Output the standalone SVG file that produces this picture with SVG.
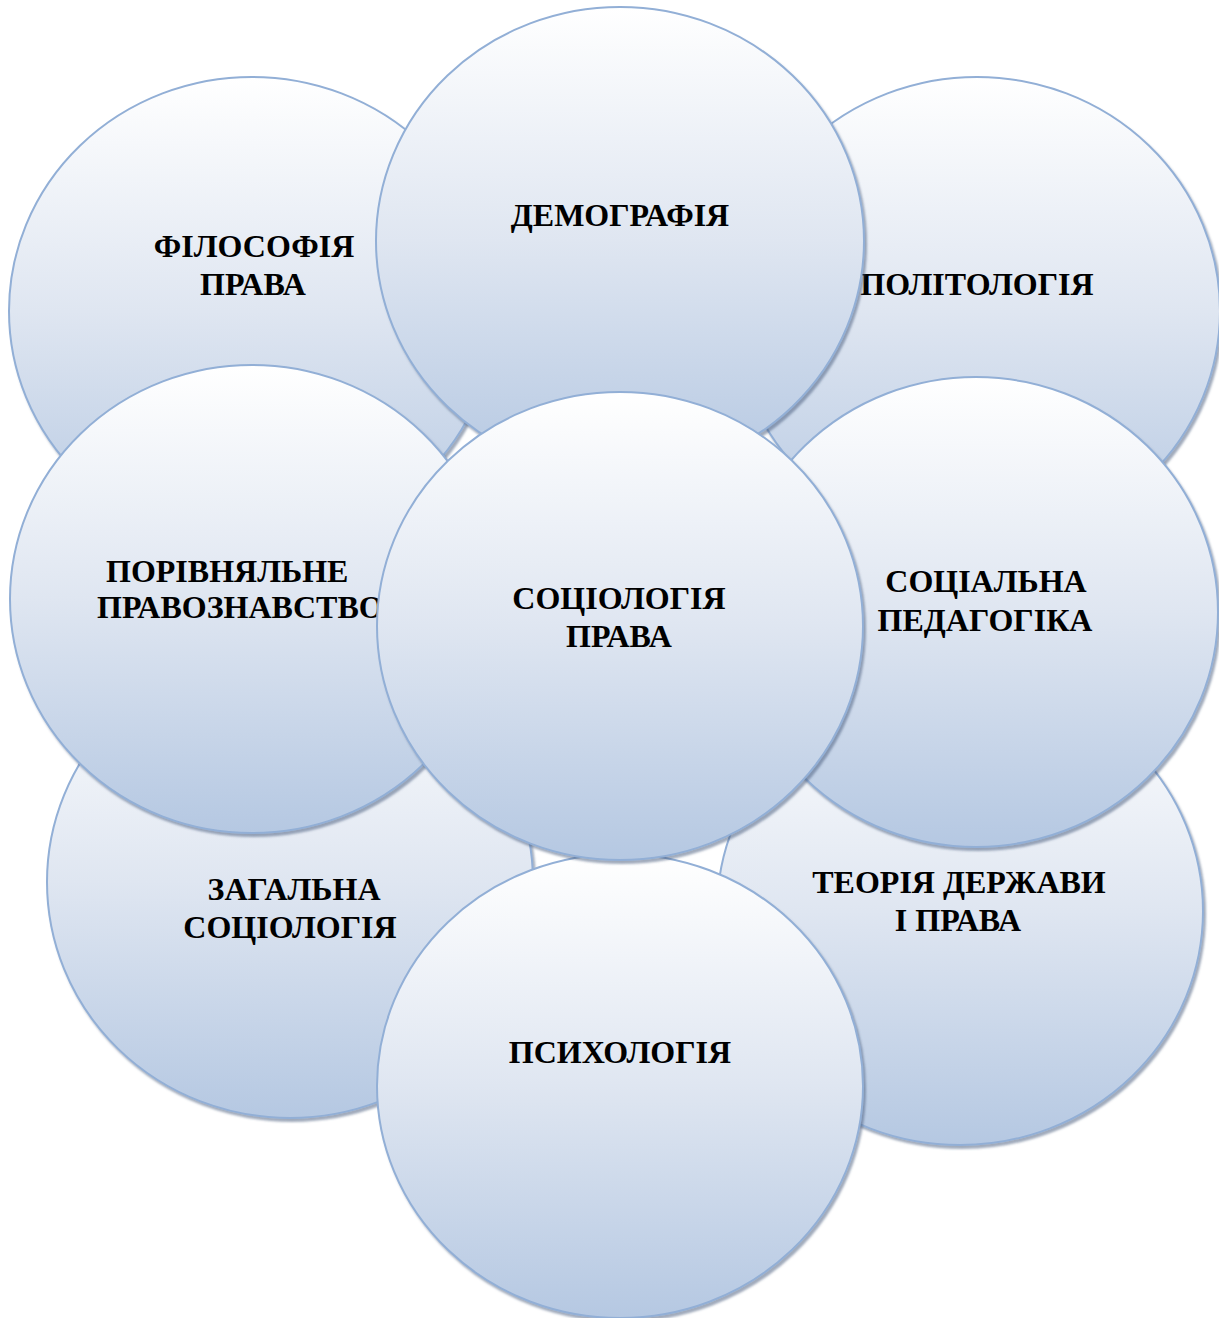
<svg xmlns="http://www.w3.org/2000/svg" width="1219" height="1318" viewBox="0 0 1219 1318">
  <defs>
    <linearGradient id="fill" x1="0" y1="0" x2="0" y2="1">
      <stop offset="0" stop-color="#ffffff"/>
      <stop offset="0.5" stop-color="#dfe6f1"/>
      <stop offset="1" stop-color="#b5c8e2"/>
    </linearGradient>
    <filter id="shadow" x="-5%" y="-5%" width="112%" height="112%">
      <feDropShadow dx="2" dy="3" stdDeviation="1.2" flood-color="#3f5577" flood-opacity="0.5"/>
    </filter>
    <style>
      .c { fill: url(#fill); stroke: #92afd6; stroke-width: 2; filter: url(#shadow); }
      .t { font-family: "Liberation Serif", "Times New Roman", serif; font-weight: bold; font-size: 32px; fill: #000; }
      .m { text-anchor: middle; }
    </style>
  </defs>
  <rect width="1219" height="1318" fill="#ffffff"/>

  <g id="node-filosofiya">
    <ellipse class="c" cx="252" cy="311" rx="243" ry="234"/>
    <text class="t m" x="254" y="257">ФІЛОСОФІЯ</text>
    <text class="t m" x="253" y="295">ПРАВА</text>
  </g>
  <g id="node-politolohiya">
    <ellipse class="c" cx="977" cy="311" rx="243" ry="234"/>
    <text class="t m" x="977" y="295">ПОЛІТОЛОГІЯ</text>
  </g>
  <g id="node-demohrafiya">
    <ellipse class="c" cx="620" cy="241" rx="244" ry="234"/>
    <text class="t m" x="620" y="226">ДЕМОГРАФІЯ</text>
  </g>
  <g id="node-zahalna">
    <ellipse class="c" cx="290" cy="882" rx="243" ry="236"/>
    <text class="t m" x="294" y="900">ЗАГАЛЬНА</text>
    <text class="t m" x="290" y="938">СОЦІОЛОГІЯ</text>
  </g>
  <g id="node-teoriya">
    <ellipse class="c" cx="960" cy="911" rx="243" ry="234"/>
    <text class="t m" x="959" y="893">ТЕОРІЯ ДЕРЖАВИ</text>
    <text class="t m" x="958" y="931">І ПРАВА</text>
  </g>
  <g id="node-porivnyalne">
    <ellipse class="c" cx="252" cy="599" rx="242" ry="234"/>
    <text class="t" x="106" y="582">ПОРІВНЯЛЬНЕ</text>
    <text class="t" x="97" y="618">ПРАВОЗНАВСТВО</text>
  </g>
  <g id="node-sotsialna-pedahohika">
    <ellipse class="c" cx="976" cy="612" rx="242" ry="235"/>
    <text class="t m" x="986" y="592">СОЦІАЛЬНА</text>
    <text class="t m" x="985" y="631">ПЕДАГОГІКА</text>
  </g>
  <g id="node-psykholohiya">
    <ellipse class="c" cx="620" cy="1086" rx="243" ry="232"/>
    <text class="t m" x="620" y="1063">ПСИХОЛОГІЯ</text>
  </g>
  <g id="node-sotsiolohiya-prava">
    <ellipse class="c" cx="620" cy="626" rx="243" ry="234"/>
    <text class="t m" x="619" y="609">СОЦІОЛОГІЯ</text>
    <text class="t m" x="619" y="647">ПРАВА</text>
  </g>
  <g id="connectors"/>
</svg>
